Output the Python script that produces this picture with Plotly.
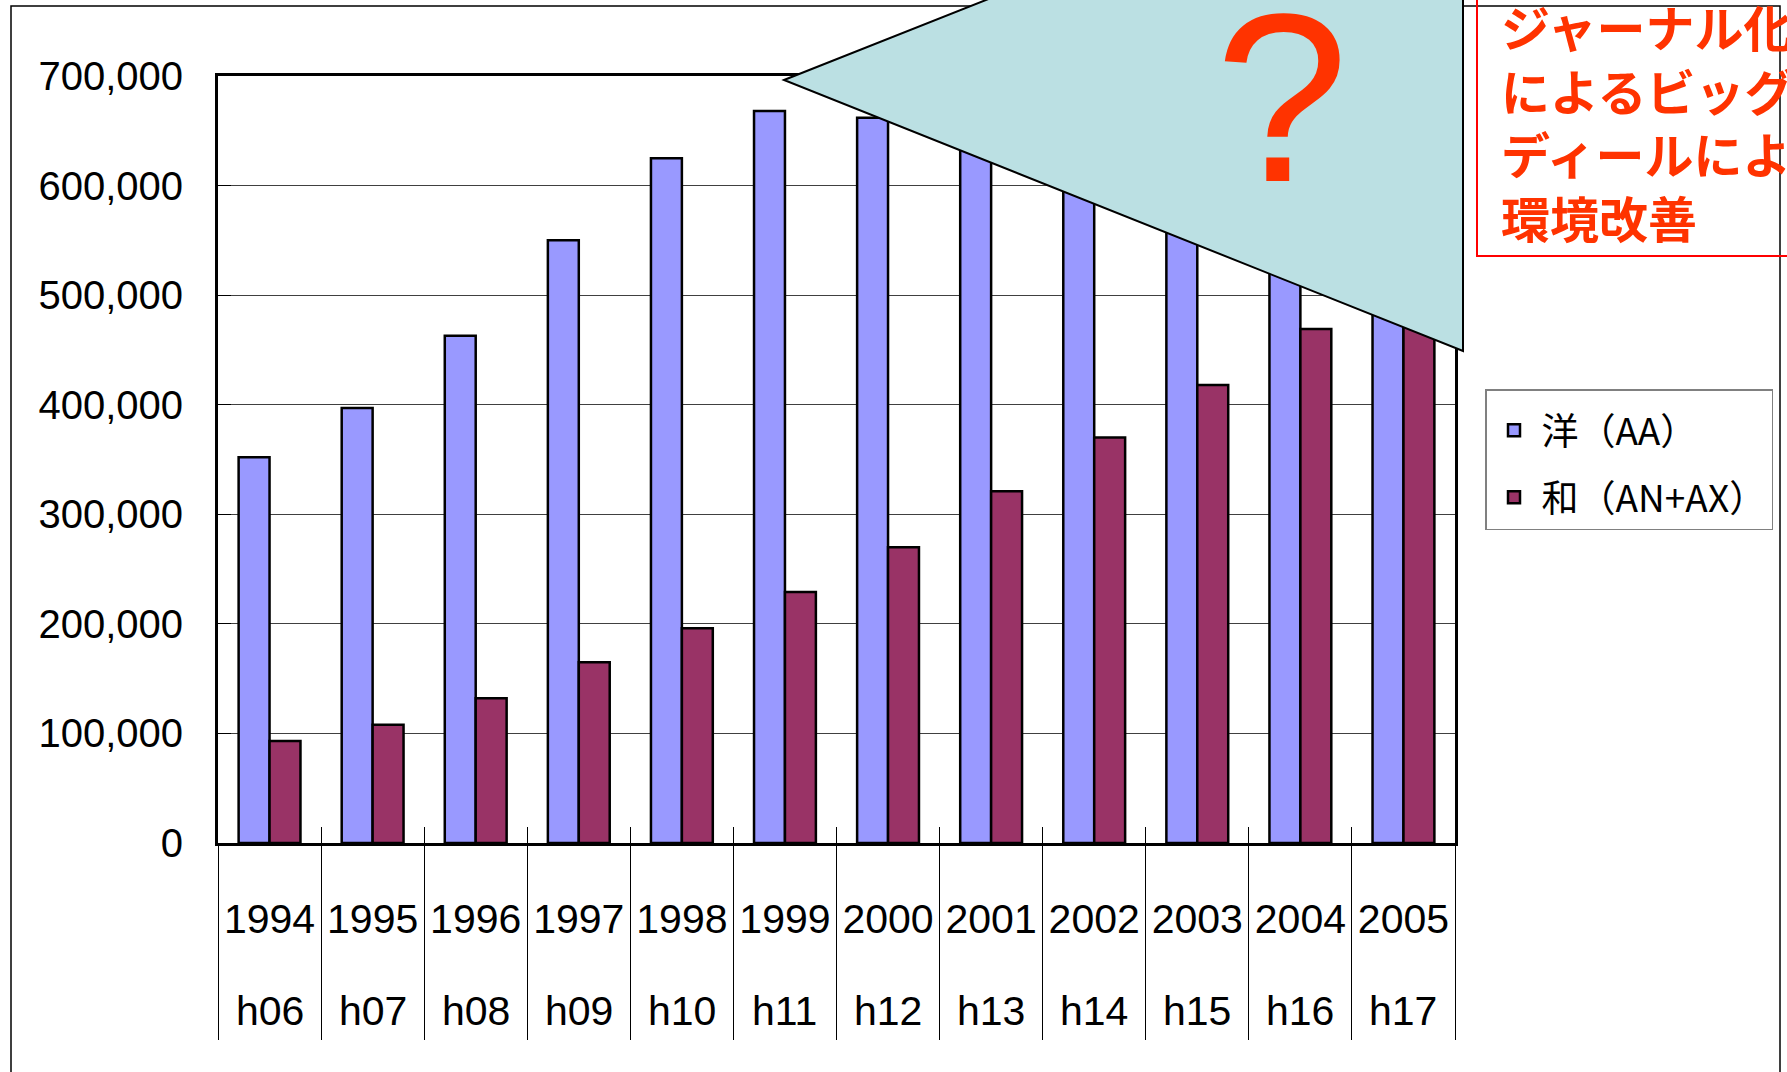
import plotly.graph_objects as go

W, H = 1787, 1072

# data
years = ["1994", "1995", "1996", "1997", "1998", "1999",
         "2000", "2001", "2002", "2003", "2004", "2005"]
heisei = ["h06", "h07", "h08", "h09", "h10", "h11",
          "h12", "h13", "h14", "h15", "h16", "h17"]
foreign = [352000, 397000, 463000, 550000, 625000, 668000,
           662000, 640000, 615000, 590000, 565000, 545000]
japanese = [93000, 108000, 132000, 165000, 196000, 229000,
            270000, 321000, 370000, 418000, 469000, 510000]
series_names = ["洋（AA）", "和（AN+AX）"]
note_lines = ["ジャーナル化", "によるビッグ・", "ディールによる", "環境改善"]

NUM = "Liberation Sans, Arial, sans-serif"
JP = "Noto Sans CJK JP, sans-serif"


def px(x):
    return x / W


def py(y):
    return 1 - y / H


fig = go.Figure()
fig.add_trace(go.Bar(x=years, y=foreign, name=series_names[0], legendgroup="a",
                     marker=dict(color="#9999FF", line=dict(color="black", width=2.5))))
fig.add_trace(go.Bar(x=years, y=japanese, name=series_names[1], legendgroup="b",
                     marker=dict(color="#993366", line=dict(color="black", width=2.5))))
# invisible helper on the overlay axis, only used for the short inner tick marks
fig.add_trace(go.Scatter(x=years, y=japanese, mode="none", xaxis="x2",
                         showlegend=False, hoverinfo="skip"))

fig.update_layout(
    width=W, height=H,
    margin=dict(l=0, r=0, t=0, b=0, autoexpand=False),
    paper_bgcolor="white", plot_bgcolor="white",
    barmode="group", bargap=0.4, bargroupgap=0,
    showlegend=True,
    legend=dict(x=px(1485), y=py(389), xanchor="left", yanchor="top",
                bordercolor="#808080", borderwidth=1.5, bgcolor="white",
                tracegroupgap=16, itemwidth=45,
                title=dict(text=" ", font=dict(size=7)),
                font=dict(family=JP, size=37, color="black")),
    xaxis=dict(
        domain=[px(218), px(1455)], automargin=False,
        type="category", range=[-0.5, 11.5],
        showline=True, linecolor="black", linewidth=3, mirror=True,
        showgrid=False,
        ticks="outside", tickson="boundaries", ticklen=194, tickcolor="black", tickwidth=1,
        tickangle=0, ticklabelstandoff=38,
        tickfont=dict(family=NUM, size=41, color="black"),
    ),
    xaxis2=dict(overlaying="x", matches="x", anchor="y", side="bottom",
                type="category", automargin=False, showline=False, showgrid=False,
                ticks="inside", tickson="boundaries", ticklen=16,
                tickcolor="black", tickwidth=1, showticklabels=False),
    yaxis=dict(
        domain=[py(843), py(76)], automargin=False,
        range=[0, 700000], dtick=100000, tickformat=",d",
        showline=True, linecolor="black", linewidth=3, mirror=True,
        showgrid=True, gridcolor="#404040", gridwidth=1,
        ticks="inside", ticklen=13, tickcolor="black", tickwidth=1,
        ticklabelstandoff=24,
        tickfont=dict(family=NUM, size=40, color="black"),
    ),
)

# second row of category labels
for i, h in enumerate(heisei):
    fig.add_annotation(x=i, xref="x", y=py(1011), yref="paper", text=h, showarrow=False,
                       font=dict(family=NUM, size=41, color="black"),
                       xanchor="center", yanchor="middle")

# outer frame
fig.add_shape(type="rect", xref="paper", yref="paper",
              x0=px(11), x1=px(1780), y0=py(6), y1=py(1090),
              line=dict(color="black", width=1.5), fillcolor="rgba(0,0,0,0)")

# callout triangle hiding the later values
fig.add_shape(type="path", xref="paper", yref="paper",
              path=f"M {px(784)},{py(80)} L {px(1463)},{py(-189)} L {px(1463)},{py(351)} Z",
              fillcolor="#BBE0E3", line=dict(color="black", width=2), layer="above")
fig.add_annotation(x=px(1281), y=py(98), xref="paper", yref="paper", text="?",
                   showarrow=False, xanchor="center", yanchor="middle",
                   font=dict(family="Liberation Sans, Arial, sans-serif", size=240, color="#FF3300"))

# red note box
fig.add_shape(type="rect", xref="paper", yref="paper",
              x0=px(1477), x1=px(1820), y0=py(256), y1=py(-20),
              line=dict(color="#FF0000", width=2), fillcolor="rgba(0,0,0,0)")
fig.add_annotation(x=px(1499), y=py(121), xref="paper", yref="paper",
                   text="<b>" + "<br>".join(note_lines) + "</b>",
                   showarrow=False, xanchor="left", yanchor="middle", align="left",
                   font=dict(family=JP, size=49, color="#FF3300"))

fig.write_html("out.html", post_script="document.body.style.margin='0';",
               config={"displayModeBar": False})
